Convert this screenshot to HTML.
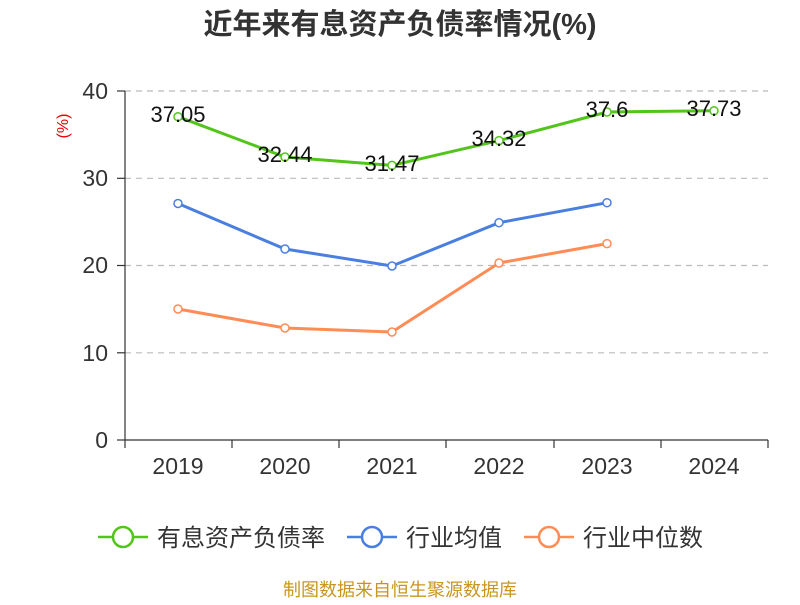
<!DOCTYPE html>
<html><head><meta charset="utf-8"><style>body{margin:0;background:#fff}</style></head><body>
<svg width="800" height="600" xmlns="http://www.w3.org/2000/svg" font-family="Liberation Sans, Noto Sans CJK SC, sans-serif">
<rect width="800" height="600" fill="#fff"/>
<text x="400" y="34" text-anchor="middle" font-size="29" font-weight="bold" fill="#333">近年来有息资产负债率情况(%)</text>
<text x="68" y="126" font-size="16" fill="#e00" transform="rotate(-90 68 126)" text-anchor="middle">(%)</text>
<g stroke="#bbb" stroke-dasharray="6,5" stroke-width="1.2">
<line x1="125" y1="91" x2="768" y2="91"/><line x1="125" y1="178.3" x2="768" y2="178.3"/><line x1="125" y1="265.5" x2="768" y2="265.5"/><line x1="125" y1="352.8" x2="768" y2="352.8"/>
</g>
<g stroke="#333" stroke-width="1.2">
<line x1="125" y1="91" x2="125" y2="440"/><line x1="125" y1="440" x2="768" y2="440"/>
<line x1="117" y1="91" x2="125" y2="91"/><line x1="117" y1="178.3" x2="125" y2="178.3"/><line x1="117" y1="265.5" x2="125" y2="265.5"/><line x1="117" y1="352.8" x2="125" y2="352.8"/><line x1="117" y1="440" x2="125" y2="440"/>
<line x1="125" y1="440" x2="125" y2="448"/><line x1="232" y1="440" x2="232" y2="448"/><line x1="339" y1="440" x2="339" y2="448"/><line x1="446" y1="440" x2="446" y2="448"/><line x1="554" y1="440" x2="554" y2="448"/><line x1="661" y1="440" x2="661" y2="448"/><line x1="768" y1="440" x2="768" y2="448"/>
</g>
<g font-size="23" fill="#333" text-anchor="end">
<text x="108" y="99">40</text><text x="108" y="186">30</text><text x="108" y="273">20</text><text x="108" y="361">10</text><text x="108" y="448">0</text>
</g>
<g font-size="23" fill="#333" text-anchor="middle">
<text x="178" y="474">2019</text><text x="285" y="474">2020</text><text x="392" y="474">2021</text><text x="499" y="474">2022</text><text x="607" y="474">2023</text><text x="714" y="474">2024</text>
</g>
<g fill="none" stroke-width="3">
<polyline stroke="#52c41a" points="178,116.7 285,157 392,165.4 499,140.6 607,112 714,110.8"/>
<polyline stroke="#4a7fe0" points="178,203.5 285,249 392,266 499,222.7 607,202.7"/>
<polyline stroke="#ff8c55" points="178,309 285,328 392,332 499,263 607,243.6"/>
</g>
<g fill="#fff" stroke-width="1.5">
<g stroke="#52c41a"><circle cx="178" cy="116.7" r="4"/><circle cx="285" cy="157" r="4"/><circle cx="392" cy="165.4" r="4"/><circle cx="499" cy="140.6" r="4"/><circle cx="607" cy="112" r="4"/><circle cx="714" cy="110.8" r="4"/></g>
<g stroke="#4a7fe0"><circle cx="178" cy="203.5" r="4"/><circle cx="285" cy="249" r="4"/><circle cx="392" cy="266" r="4"/><circle cx="499" cy="222.7" r="4"/><circle cx="607" cy="202.7" r="4"/></g>
<g stroke="#ff8c55"><circle cx="178" cy="309" r="4"/><circle cx="285" cy="328" r="4"/><circle cx="392" cy="332" r="4"/><circle cx="499" cy="263" r="4"/><circle cx="607" cy="243.6" r="4"/></g>
</g>
<g font-size="22" fill="#111" text-anchor="middle">
<text x="178" y="122">37.05</text><text x="285" y="162">32.44</text><text x="392" y="171">31.47</text><text x="499" y="146">34.32</text><text x="607" y="117">37.6</text><text x="714" y="116">37.73</text>
</g>
<g stroke-width="2.5" fill="#fff">
<line x1="98" y1="537" x2="148" y2="537" stroke="#52c41a"/><circle cx="123" cy="537" r="10" stroke="#52c41a"/>
<line x1="347" y1="537" x2="397" y2="537" stroke="#4a7fe0"/><circle cx="372" cy="537" r="10" stroke="#4a7fe0"/>
<line x1="524" y1="537" x2="574" y2="537" stroke="#ff8c55"/><circle cx="549" cy="537" r="10" stroke="#ff8c55"/>
</g>
<g font-size="24" fill="#333">
<text x="157" y="546">有息资产负债率</text><text x="406" y="546">行业均值</text><text x="583" y="546">行业中位数</text>
</g>
<text x="400" y="596" text-anchor="middle" font-size="18" fill="#c8961e">制图数据来自恒生聚源数据库</text>
</svg>
</body></html>
